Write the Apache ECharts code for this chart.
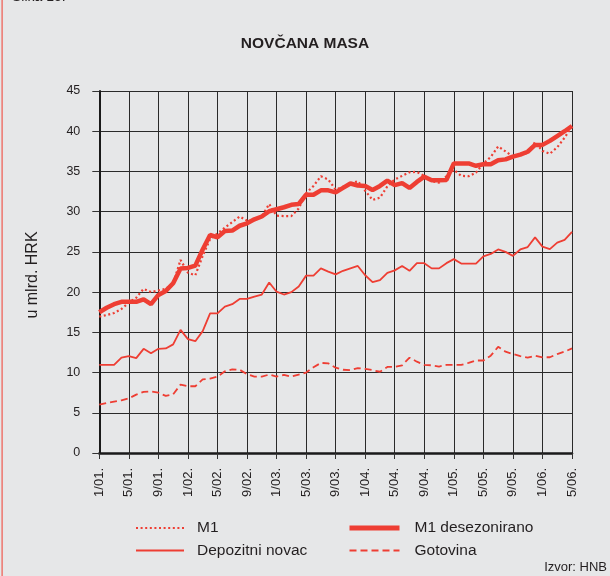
<!DOCTYPE html>
<html>
<head>
<meta charset="utf-8">
<script src="https://cdn.jsdelivr.net/npm/echarts@6/dist/echarts.min.js"></script>
<style>
html,body{margin:0;padding:0;background:#e6e7e8;}
#c{width:610px;height:576px;}
</style>
</head>
<body>
<div id="c"></div>
<script>
var months = [
 '1/01.','2/01.','3/01.','4/01.','5/01.','6/01.','7/01.','8/01.','9/01.','10/01.','11/01.','12/01.',
 '1/02.','2/02.','3/02.','4/02.','5/02.','6/02.','7/02.','8/02.','9/02.','10/02.','11/02.','12/02.',
 '1/03.','2/03.','3/03.','4/03.','5/03.','6/03.','7/03.','8/03.','9/03.','10/03.','11/03.','12/03.',
 '1/04.','2/04.','3/04.','4/04.','5/04.','6/04.','7/04.','8/04.','9/04.','10/04.','11/04.','12/04.',
 '1/05.','2/05.','3/05.','4/05.','5/05.','6/05.','7/05.','8/05.','9/05.','10/05.','11/05.','12/05.',
 '1/06.','2/06.','3/06.','4/06.','5/06.'
];
var m1 = [
 16.95,17.15,17.4,17.9,18.7,19.3,20.4,20.0,20.2,20.4,21.1,24.0,
 22.4,22.1,24.5,26.6,27.3,28.0,28.7,29.4,28.9,29.0,29.4,30.95,
 29.5,29.45,29.45,30.4,32.3,33.2,34.4,34.0,32.75,33.1,33.45,33.8,
 32.6,31.45,31.75,33.15,34.0,34.45,34.9,34.95,34.45,33.8,33.6,34.4,
 35.2,34.45,34.4,34.85,36.0,36.8,38.1,37.5,36.85,37.1,37.3,38.65,
 37.55,37.2,38.0,39.2,40.6
];
var m1Sa = [
 17.5,18.05,18.5,18.8,18.8,18.8,19.1,18.5,19.65,20.15,21.1,22.95,
 23.0,23.3,25.3,27.1,26.8,27.6,27.65,28.25,28.55,29.05,29.4,30.05,
 30.3,30.55,30.85,30.95,32.1,32.1,32.65,32.65,32.4,32.95,33.5,33.25,
 33.2,32.7,33.2,33.85,33.3,33.55,32.95,33.7,34.35,33.9,33.9,33.95,
 36.0,36.0,36.0,35.7,35.9,35.9,36.4,36.5,36.85,37.1,37.45,38.3,
 38.3,38.8,39.4,40.0,40.65
];
var depozitni = [
 10.95,10.95,10.95,11.85,12.05,11.8,12.95,12.4,12.95,13.0,13.5,15.3,
 14.15,13.9,15.15,17.35,17.35,18.2,18.5,19.15,19.15,19.45,19.7,21.2,
 20.05,19.7,20.0,20.7,22.05,22.05,22.95,22.55,22.2,22.65,22.95,23.25,
 22.1,21.25,21.5,22.4,22.7,23.25,22.65,23.6,23.6,22.95,22.95,23.6,
 24.1,23.55,23.55,23.55,24.45,24.75,25.3,25.0,24.5,25.3,25.6,26.8,
 25.65,25.35,26.15,26.5,27.5
];
var gotovina = [
 6.0,6.2,6.4,6.55,6.8,7.25,7.6,7.65,7.5,7.1,7.3,8.5,
 8.3,8.3,9.15,9.25,9.5,10.15,10.4,10.35,9.8,9.5,9.5,9.75,
 9.5,9.7,9.5,9.75,10.0,10.65,11.2,11.15,10.6,10.35,10.3,10.55,
 10.45,10.3,10.1,10.7,10.7,10.9,11.85,11.35,10.95,10.9,10.75,10.95,
 10.95,10.95,11.2,11.5,11.5,12.1,13.2,12.6,12.3,12.05,11.85,12.1,
 11.9,11.9,12.3,12.6,13.0
];
var yTicks = [0,5,10,15,20,25,30,35,40,45];
var seriesNames = ['M1','M1 desezonirano','Depozitni novac','Gotovina'];

var RED = '#ee3e33';
var FONT = '"Liberation Sans", Arial, Helvetica, sans-serif';
var chart = echarts.init(document.getElementById('c'), null, {renderer:'canvas'});
var legendCommon = {
  orient: 'vertical', top: 520, padding: 0,
  itemHeight: 16, itemGap: 6.5,
  itemStyle: {color: 'rgba(0,0,0,0)', borderWidth: 0, opacity: 0}
};
chart.setOption({
  backgroundColor: '#e6e7e8',
  animation: false,
  textStyle: {fontFamily: FONT},
  title: {
    text: 'NOVČANA MASA', left: 'center', top: 31,
    textStyle: {fontSize: 15.5, fontWeight: 'bold', color: '#231f20', fontFamily: FONT}
  },
  graphic: [
    {type:'rect', shape:{x:1.5, y:0, width:1.2, height:576}, style:{fill:'#f05a4f'}},
    {type:'text', x:12, y:-10, style:{text:'Slika 15.', fontSize:14, fontFamily:FONT, fill:'#231f20'}},
    {type:'text', x:32.5, y:275, rotation: Math.PI/2,
     style:{text:'u mlrd. HRK', fontSize:16, fontFamily:FONT, fill:'#231f20', align:'center', verticalAlign:'middle'}},
    {type:'text', right:3, top:561, style:{text:'Izvor: HNB', fontSize:13, fontFamily:FONT, fill:'#231f20'}}
  ],
  legend: [
    Object.assign({}, legendCommon, {
      data: [seriesNames[0], seriesNames[2]],
      left: 135, itemWidth: 48,
      textStyle: {fontSize: 15.5, color:'#231f20', fontFamily: FONT, padding:[0,0,0,8]}
    }),
    Object.assign({}, legendCommon, {
      data: [{name: seriesNames[1], lineStyle: {width: 5, color: RED}}, seriesNames[3]],
      left: 347, itemWidth: 50,
      textStyle: {fontSize: 15.5, color:'#231f20', fontFamily: FONT, padding:[0,0,0,10]}
    })
  ],
  grid: {left: 99.3, right: 38, top: 91, bottom: 123, containLabel: false},
  xAxis: {
    type: 'category', data: months, boundaryGap: false,
    axisLine: {show: true, lineStyle: {color:'#1a1a1a', width: 2.5}},
    axisTick: {show: true, interval: 3, length: 6, lineStyle: {color:'#333', width: 1}},
    axisLabel: {interval: 3, rotate: 90, margin: 15, fontSize: 13, color:'#231f20', fontFamily: FONT},
    splitLine: {show: true, interval: 3, lineStyle: {color:'#2a2a2a', width: 1}}
  },
  yAxis: {
    type: 'value', min: yTicks[0], max: yTicks[yTicks.length-1], interval: 5,
    axisLine: {show: true, lineStyle: {color:'#1a1a1a', width: 2}},
    axisTick: {show: true, length: 7, lineStyle: {color:'#333', width: 1}},
    axisLabel: {margin: 19, fontSize: 12.5, color:'#231f20', fontFamily: FONT},
    splitLine: {show: true, lineStyle: {color:'#2a2a2a', width: 1}}
  },
  series: [
    {name: seriesNames[0], type:'line', data: m1, symbol:'none', z: 3,
     lineStyle:{color: RED, width: 2.2, type:[2,2.6]}, itemStyle:{color:RED}},
    {name: seriesNames[2], type:'line', data: depozitni, symbol:'none', z: 3,
     lineStyle:{color: RED, width: 1.8}, itemStyle:{color:RED}},
    {name: seriesNames[3], type:'line', data: gotovina, symbol:'none', z: 3,
     lineStyle:{color: RED, width: 1.8, type:[7,4]}, itemStyle:{color:RED}},
    {name: seriesNames[1], type:'line', data: m1Sa, symbol:'none', z: 4,
     lineStyle:{color: RED, width: 4.5}, itemStyle:{color:RED}}
  ]
});
</script>
</body>
</html>
